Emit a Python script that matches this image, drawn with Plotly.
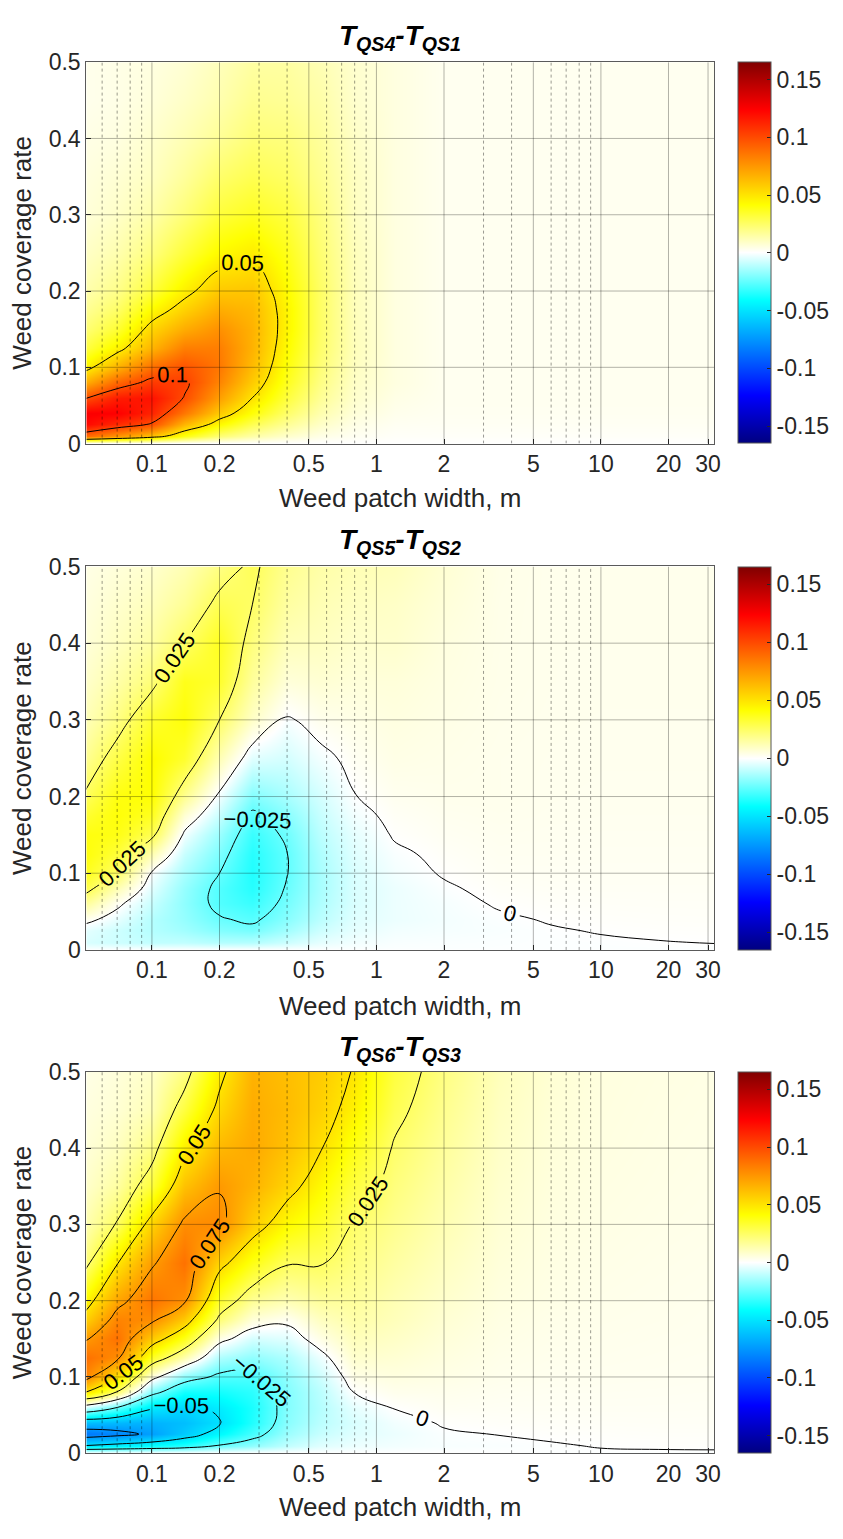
import math
import plotly.graph_objects as go

# ---- grid nodes -------------------------------------------------------------
PATCH_WIDTH_M = [0.05, 0.07, 0.1, 0.14, 0.2, 0.28, 0.4, 0.56, 0.8, 1.2, 2, 3.5, 6, 10, 18, 32]
COVERAGE_RATE = [0, 0.01, 0.025, 0.04, 0.06, 0.08, 0.1, 0.125, 0.15, 0.175, 0.2,
                 0.25, 0.3, 0.35, 0.4, 0.45, 0.5]

# ---- time differences: one inner list per patch width, coverage 0 -> 0.5 ----
DIFF_QS4_QS1 = [
    [0, 0.09, 0.122, 0.125, 0.098, 0.066, 0.044, 0.03, 0.022, 0.017, 0.013, 0.009, 0.006, 0.005, 0.004, 0.003, 0.003],
    [0, 0.075, 0.11, 0.124, 0.115, 0.09, 0.066, 0.045, 0.033, 0.025, 0.019, 0.013, 0.009, 0.007, 0.005, 0.004, 0.004],
    [0, 0.06, 0.098, 0.112, 0.118, 0.105, 0.088, 0.066, 0.055, 0.043, 0.032, 0.021, 0.014, 0.01, 0.008, 0.006, 0.005],
    [0, 0.038, 0.065, 0.085, 0.099, 0.103, 0.097, 0.083, 0.068, 0.056, 0.046, 0.032, 0.022, 0.016, 0.012, 0.009, 0.007],
    [0, 0.022, 0.043, 0.058, 0.072, 0.081, 0.085, 0.083, 0.077, 0.068, 0.059, 0.043, 0.032, 0.024, 0.017, 0.013, 0.011],
    [0, 0.014, 0.028, 0.04, 0.05, 0.058, 0.063, 0.066, 0.066, 0.064, 0.06, 0.047, 0.036, 0.028, 0.022, 0.018, 0.015],
    [0, 0.008, 0.017, 0.024, 0.031, 0.036, 0.039, 0.042, 0.044, 0.044, 0.042, 0.037, 0.031, 0.025, 0.021, 0.017, 0.015],
    [0, 0.004, 0.009, 0.013, 0.017, 0.02, 0.022, 0.024, 0.025, 0.025, 0.025, 0.023, 0.021, 0.018, 0.016, 0.014, 0.012],
    [0, 0.002, 0.004, 0.006, 0.008, 0.009, 0.01, 0.011, 0.011, 0.011, 0.011, 0.011, 0.01, 0.01, 0.009, 0.008, 0.008],
    [0, 0.001, 0.002, 0.003, 0.004, 0.005, 0.005, 0.005, 0.005, 0.005, 0.005, 0.005, 0.005, 0.005, 0.005, 0.005, 0.005],
    [0, 0.001, 0.0018, 0.0022, 0.0025, 0.0025, 0.0025, 0.0025, 0.0025, 0.0025, 0.0025, 0.0025, 0.0025, 0.0025, 0.0025, 0.0025, 0.0025],
    [0, 0.001, 0.0018, 0.0022, 0.0025, 0.0025, 0.0025, 0.0025, 0.0025, 0.0025, 0.0025, 0.0025, 0.0025, 0.0025, 0.0025, 0.0025, 0.0025],
    [0, 0.001, 0.0018, 0.0022, 0.0025, 0.0025, 0.0025, 0.0025, 0.0025, 0.0025, 0.0025, 0.0025, 0.0025, 0.0025, 0.0025, 0.0025, 0.0025],
    [0, 0.001, 0.0018, 0.0022, 0.0025, 0.0025, 0.0025, 0.0025, 0.0025, 0.0025, 0.0025, 0.0025, 0.0025, 0.0025, 0.0025, 0.0025, 0.0025],
    [0, 0.001, 0.0018, 0.0022, 0.0025, 0.0025, 0.0025, 0.0025, 0.0025, 0.0025, 0.0025, 0.0025, 0.0025, 0.0025, 0.0025, 0.0025, 0.0025],
    [0, 0.001, 0.0018, 0.0022, 0.0025, 0.0025, 0.0025, 0.0025, 0.0025, 0.0025, 0.0025, 0.0025, 0.0025, 0.0025, 0.0025, 0.0025, 0.0025],
]

DIFF_QS5_QS2 = [
    [-0.0005, -0.006, -0.004, 0.003, 0.017, 0.03, 0.037, 0.04, 0.039, 0.033, 0.026, 0.017, 0.011, 0.008, 0.006, 0.005, 0.004],
    [-0.0005, -0.008, -0.008, -0.004, 0.002, 0.012, 0.024, 0.032, 0.038, 0.04, 0.039, 0.03, 0.02, 0.014, 0.01, 0.008, 0.006],
    [-0.0005, -0.01, -0.012, -0.012, -0.009, -0.005, -0.001, 0.012, 0.028, 0.036, 0.041, 0.042, 0.034, 0.022, 0.015, 0.011, 0.008],
    [-0.0005, -0.01, -0.015, -0.017, -0.018, -0.017, -0.014, -0.009, -0.002, 0.007, 0.018, 0.034, 0.04, 0.037, 0.025, 0.017, 0.012],
    [-0.0005, -0.012, -0.02, -0.024, -0.028, -0.028, -0.025, -0.021, -0.016, -0.009, -0.002, 0.012, 0.025, 0.034, 0.036, 0.028, 0.02],
    [-0.0005, -0.012, -0.022, -0.027, -0.032, -0.035, -0.036, -0.035, -0.032, -0.027, -0.02, -0.005, 0.009, 0.016, 0.021, 0.025, 0.027],
    [-0.0005, -0.008, -0.015, -0.019, -0.022, -0.024, -0.0253, -0.0252, -0.023, -0.019, -0.014, -0.007, -0.001, 0.006, 0.011, 0.015, 0.018],
    [-0.0005, -0.004, -0.008, -0.011, -0.013, -0.014, -0.014, -0.013, -0.011, -0.009, -0.007, -0.002, 0.003, 0.007, 0.01, 0.012, 0.014],
    [-0.0005, -0.002, -0.004, -0.005, -0.006, -0.006, -0.006, -0.005, -0.004, -0.002, -0.0002, 0.002, 0.004, 0.006, 0.008, 0.01, 0.012],
    [-0.0005, -0.001, -0.002, -0.003, -0.003, -0.003, -0.002, -0.001, 0.0005, 0.0015, 0.0025, 0.004, 0.005, 0.006, 0.008, 0.009, 0.011],
    [-0.0005, -0.0008, -0.0015, -0.0018, -0.0015, -0.0006, 0.0004, 0.0012, 0.002, 0.0025, 0.003, 0.0035, 0.004, 0.0045, 0.005, 0.006, 0.007],
    [-0.0005, -0.0006, -0.001, -0.0006, 0.0004, 0.0012, 0.0018, 0.0022, 0.0025, 0.0028, 0.003, 0.003, 0.0032, 0.0034, 0.0035, 0.0036, 0.0038],
    [-0.0005, -0.0005, -0.0003, 0.0003, 0.001, 0.0015, 0.0019, 0.0022, 0.0024, 0.0026, 0.0027, 0.0028, 0.0029, 0.003, 0.003, 0.003, 0.003],
    [-0.0005, -0.0004, 0.0002, 0.0007, 0.0012, 0.0016, 0.0019, 0.0021, 0.0023, 0.0025, 0.0026, 0.0027, 0.0028, 0.0029, 0.003, 0.003, 0.003],
    [-0.0005, -0.0001, 0.0005, 0.0009, 0.0013, 0.0016, 0.0019, 0.0021, 0.0023, 0.0025, 0.0026, 0.0027, 0.0028, 0.0029, 0.003, 0.003, 0.003],
    [-0.0005, 0.0001, 0.0006, 0.001, 0.0013, 0.0016, 0.0019, 0.0021, 0.0023, 0.0025, 0.0026, 0.0027, 0.0028, 0.0029, 0.003, 0.003, 0.003],
]

DIFF_QS6_QS3 = [
    [0, -0.05, -0.085, -0.062, -0.008, 0.052, 0.082, 0.088, 0.073, 0.055, 0.042, 0.02, 0.012, 0.008, 0.006, 0.005, 0.004],
    [0, -0.045, -0.08, -0.064, -0.025, 0.024, 0.051, 0.078, 0.087, 0.081, 0.07, 0.049, 0.026, 0.015, 0.01, 0.007, 0.006],
    [0, -0.04, -0.072, -0.066, -0.048, -0.02, 0.005, 0.035, 0.058, 0.078, 0.086, 0.073, 0.056, 0.032, 0.02, 0.012, 0.009],
    [0, -0.035, -0.058, -0.062, -0.054, -0.038, -0.018, 0.013, 0.037, 0.058, 0.077, 0.087, 0.078, 0.061, 0.046, 0.031, 0.02],
    [0, -0.024, -0.043, -0.051, -0.047, -0.038, -0.028, -0.013, 0.004, 0.022, 0.034, 0.055, 0.079, 0.074, 0.064, 0.054, 0.046],
    [0, -0.018, -0.03, -0.036, -0.037, -0.034, -0.029, -0.018, -0.007, 0.006, 0.017, 0.038, 0.057, 0.066, 0.069, 0.068, 0.066],
    [0, -0.01, -0.016, -0.019, -0.02, -0.02, -0.018, -0.013, -0.005, 0.002, 0.012, 0.026, 0.042, 0.055, 0.061, 0.063, 0.062],
    [0, -0.005, -0.009, -0.011, -0.012, -0.011, -0.008, -0.003, 0.004, 0.01, 0.016, 0.026, 0.035, 0.043, 0.051, 0.056, 0.058],
    [0, -0.003, -0.005, -0.006, -0.004, 0.0003, 0.004, 0.008, 0.011, 0.014, 0.016, 0.02, 0.024, 0.031, 0.038, 0.045, 0.049],
    [0, -0.002, -0.003, -0.002, 0.0003, 0.003, 0.005, 0.007, 0.009, 0.011, 0.012, 0.015, 0.018, 0.021, 0.024, 0.028, 0.031],
    [0, -0.0012, -0.0006, 0.0005, 0.002, 0.003, 0.004, 0.005, 0.006, 0.007, 0.008, 0.01, 0.012, 0.014, 0.016, 0.018, 0.02],
    [0, -0.0008, 0.0001, 0.001, 0.0018, 0.0024, 0.003, 0.0035, 0.004, 0.0045, 0.005, 0.006, 0.007, 0.008, 0.009, 0.01, 0.011],
    [-0.0004, -0.0003, 0.0006, 0.0012, 0.0018, 0.0022, 0.0026, 0.003, 0.0033, 0.0036, 0.004, 0.0045, 0.005, 0.0055, 0.006, 0.0065, 0.007],
    [-0.0004, 0.0002, 0.0008, 0.0013, 0.0018, 0.0022, 0.0025, 0.0028, 0.003, 0.0032, 0.0034, 0.0038, 0.0042, 0.0045, 0.0048, 0.005, 0.0052],
    [-0.0004, 0.0004, 0.001, 0.0014, 0.0018, 0.0021, 0.0024, 0.0026, 0.0028, 0.003, 0.0031, 0.0034, 0.0037, 0.004, 0.0042, 0.0044, 0.0046],
    [-0.0004, 0.0005, 0.001, 0.0014, 0.0017, 0.002, 0.0022, 0.0024, 0.0026, 0.0027, 0.0028, 0.0031, 0.0034, 0.0036, 0.0038, 0.004, 0.0042],
]

PANEL_TITLES = [
    "<b><i>T<sub>QS4</sub>-T<sub>QS1</sub></i></b>",
    "<b><i>T<sub>QS5</sub>-T<sub>QS2</sub></i></b>",
    "<b><i>T<sub>QS6</sub>-T<sub>QS3</sub></i></b>",
]
# (first level, last level, step) of the labelled contour lines
CONTOUR_LEVELS = [(0.05, 0.15, 0.05), (-0.025, 0.025, 0.025), (-0.075, 0.075, 0.025)]

X_TICKS = [0.1, 0.2, 0.5, 1, 2, 5, 10, 20, 30]
X_TICK_TEXT = ["0.1", "0.2", "0.5", "1", "2", "5", "10", "20", "30"]
X_MINOR = [0.06, 0.07, 0.08, 0.09, 0.3, 0.4, 0.6, 0.7, 0.8, 0.9, 3, 4, 6, 7, 8, 9]
Y_TICKS = [0, 0.1, 0.2, 0.3, 0.4, 0.5]
Y_TICK_TEXT = ["0", "0.1", "0.2", "0.3", "0.4", "0.5"]
CBAR_TICKS = [-0.15, -0.1, -0.05, 0, 0.05, 0.1, 0.15]
CBAR_TICK_TEXT = ["-0.15", "-0.1", "-0.05", "0", "0.05", "0.1", "0.15"]

X_LABEL = "Weed patch width, m"
Y_LABEL = "Weed coverage rate"

# ---- styling ----------------------------------------------------------------
W, H = 843, 1539
FONT = "Liberation Sans, Arial, sans-serif"
INK = "#262626"
X_RANGE = (0.051, 31.9)
Z_LIMIT = 0.165
COLORSCALE = [
    [0.0, "rgb(0,0,128)"],
    [0.125, "rgb(0,0,255)"],
    [0.375, "rgb(0,255,255)"],
    [0.5, "rgb(255,255,255)"],
    [0.625, "rgb(255,255,0)"],
    [0.875, "rgb(255,0,0)"],
    [1.0, "rgb(128,0,0)"],
]

PLOT_LEFT, PLOT_RIGHT = 87, 720
PANEL_PX = [(50, 438), (563, 953), (1077, 1465)]     # top, bottom in pixels
TITLE_PX = [25, 538, 1053]
XLABEL_PX = [493, 1010, 1520]
CBAR_LEFT, CBAR_THICK = 744, 33


def py(p):
    return 1 - p / H


def transpose(cols):
    return [list(r) for r in zip(*cols)]


fig = go.Figure()
layout = dict(
    width=W, height=H,
    margin=dict(l=0, r=0, t=0, b=0),
    paper_bgcolor="white", plot_bgcolor="white",
    showlegend=False,
    font=dict(family=FONT, color=INK, size=23),
    annotations=[],
)

fields = [DIFF_QS4_QS1, DIFF_QS5_QS2, DIFF_QS6_QS3]

for i, (field, (top, bot)) in enumerate(zip(fields, PANEL_PX)):
    n = "" if i == 0 else str(i + 1)
    xa, ya = "x" + n, "y" + n
    z = transpose(field)

    fig.add_trace(go.Heatmap(
        x=PATCH_WIDTH_M, y=COVERAGE_RATE, z=z,
        xaxis=xa, yaxis=ya,
        zsmooth="best", colorscale=COLORSCALE, zmin=-Z_LIMIT, zmax=Z_LIMIT,
        hoverinfo="skip",
        colorbar=dict(
            x=CBAR_LEFT / W, xanchor="left", xpad=0, ypad=0,
            y=py((top + bot) / 2), yanchor="middle",
            len=(bot - top) / H, lenmode="fraction",
            thickness=CBAR_THICK, thicknessmode="pixels",
            outlinewidth=1, outlinecolor="#555555",
            tickmode="array", tickvals=CBAR_TICKS, ticktext=CBAR_TICK_TEXT,
            ticks="inside", ticklen=4, tickcolor=INK,
            tickfont=dict(size=23, color=INK, family=FONT),
        ),
    ))

    start, end, step = CONTOUR_LEVELS[i]
    fig.add_trace(go.Contour(
        x=PATCH_WIDTH_M, y=COVERAGE_RATE, z=z,
        xaxis=xa, yaxis=ya,
        contours=dict(start=start, end=end, size=step, coloring="none",
                      showlabels=True,
                      labelfont=dict(size=22, color="black", family=FONT)),
        line=dict(color="black", width=1, smoothing=1.3),
        showscale=False, hoverinfo="skip",
    ))

    # grid drawn over the coloured field
    vx, vy = [], []
    for v in X_TICKS:
        vx += [v, v, None]
        vy += [0, 0.5, None]
    for v in Y_TICKS[1:-1]:
        vx += [X_RANGE[0], X_RANGE[1], None]
        vy += [v, v, None]
    fig.add_trace(go.Scatter(x=vx, y=vy, xaxis=xa, yaxis=ya, mode="lines",
                             line=dict(color="rgba(0,0,0,0.3)", width=1),
                             hoverinfo="skip"))
    mx, my = [], []
    for v in X_MINOR:
        mx += [v, v, None]
        my += [0, 0.5, None]
    fig.add_trace(go.Scatter(x=mx, y=my, xaxis=xa, yaxis=ya, mode="lines",
                             line=dict(color="rgba(0,0,0,0.4)", width=1, dash="dot"),
                             hoverinfo="skip"))

    axis_common = dict(showline=True, mirror=True, linecolor="#5a5a5a", linewidth=1,
                       ticks="inside", ticklen=5, tickcolor=INK, showgrid=False,
                       zeroline=False, tickfont=dict(size=23, color=INK, family=FONT))
    layout["xaxis" + n] = dict(
        type="log", range=[math.log10(X_RANGE[0]), math.log10(X_RANGE[1])], anchor=ya,
        domain=[PLOT_LEFT / W, PLOT_RIGHT / W],
        tickmode="array", tickvals=X_TICKS, ticktext=X_TICK_TEXT,
        **axis_common)
    layout["yaxis" + n] = dict(
        range=[0, 0.5], anchor=xa, domain=[py(bot), py(top)],
        tickmode="array", tickvals=Y_TICKS, ticktext=Y_TICK_TEXT,
        **axis_common)

    cx = (PLOT_LEFT + PLOT_RIGHT) / 2 / W
    layout["annotations"] += [
        dict(text=PANEL_TITLES[i], x=cx, y=py(TITLE_PX[i]), xref="paper", yref="paper",
             xanchor="center", yanchor="middle", showarrow=False,
             font=dict(size=28, color="black", family=FONT)),
        dict(text=X_LABEL, x=cx, y=py(XLABEL_PX[i]), xref="paper", yref="paper",
             xanchor="center", yanchor="middle", showarrow=False,
             font=dict(size=26, color=INK, family=FONT)),
        dict(text=Y_LABEL, x=22 / W, y=py((top + bot) / 2), xref="paper", yref="paper",
             xanchor="center", yanchor="middle", textangle=-90, showarrow=False,
             font=dict(size=26, color=INK, family=FONT)),
    ]

fig.update_layout(**layout)
fig.write_html("out.html")
